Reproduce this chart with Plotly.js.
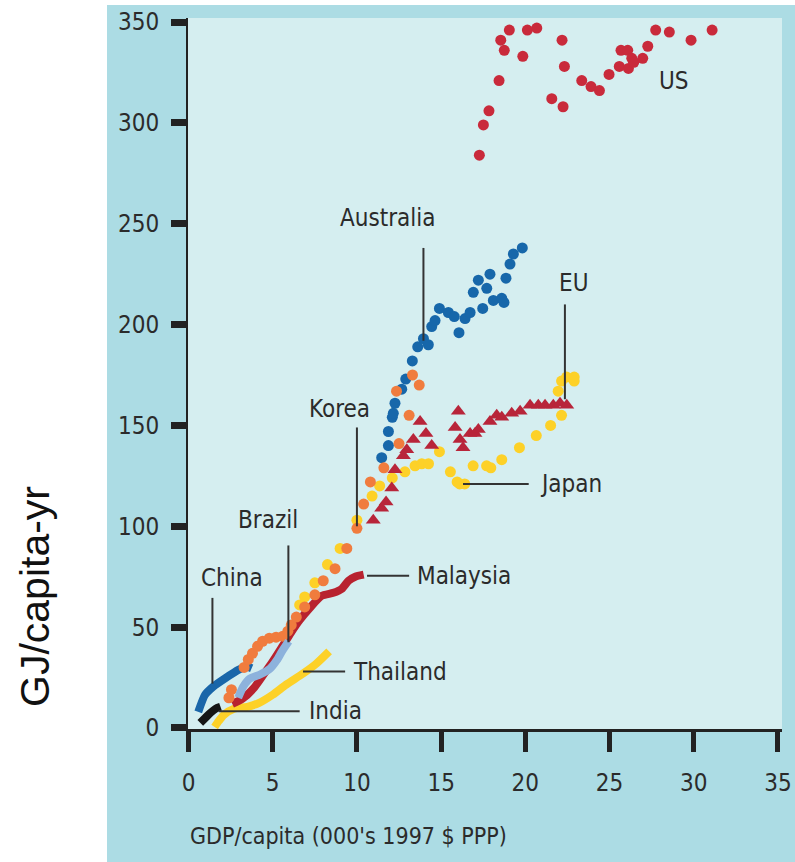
<!DOCTYPE html>
<html>
<head>
<meta charset="utf-8">
<script src="https://cdn.plot.ly/plotly-3.0.1.min.js"></script>
<style>html,body{margin:0;padding:0;background:#fff;}#chart{width:795px;height:862px;}</style>
</head>
<body>
<div id="chart"></div>
<script>
// ---- data (GDP/capita in 000's 1997 $ PPP, energy in GJ/capita-yr) ----
const usX = [17.27,17.51,17.84,18.44,18.54,18.75,19.05,19.85,20.12,20.68,21.57,22.18,22.32,22.24,23.35,23.9,24.4,24.97,25.58,25.68,26.08,26.12,26.32,26.44,26.97,27.27,27.74,28.55,29.84,31.09];
const usY = [284,299,306,321,341,336,346,333,346,347,312,341,328,308,321,318,316,324,328,336,336,327,332,330,332,338,346,345,341,346];

const ausX = [11.47,11.87,11.87,12.1,12.16,12.26,12.66,12.9,13.29,13.61,13.95,14.24,14.44,14.64,14.9,15.43,15.78,16.06,16.42,16.72,16.91,17.21,17.47,17.71,17.9,18.1,18.6,18.73,18.85,19.09,19.29,19.82];
const ausY = [134,140,147,154,156,161,168,173,182,189,193,190,199,202,208,206,204,196,203,206,216,222,208,218,225,212,213,211,223,230,235,238];

const korX = [2.4,2.55,3.3,3.55,3.8,4.1,4.4,4.8,5.2,5.6,5.9,6.1,6.4,6.9,7.5,8.0,8.7,9.4,10.0,10.4,10.8,11.6,12.5,13.1,12.35,13.3,13.7];
const korY = [15,19,30,34,37,40.5,43,44.5,45,45.5,48,51,55,60,66,73,79,89,99,111,122,129,141,155,167,175,170];

const japX = [6.6,6.9,7.5,8.25,9.0,10.0,10.9,11.35,12.1,12.85,13.45,13.85,14.25,14.9,15.55,15.95,16.1,16.4,16.9,17.7,17.95,18.6,19.65,20.65,21.5,22.15,21.95,22.15,22.45,22.9,22.9];
const japY = [61,65,72,81,89,103,115,120,124,127,130,131,131,137,127,122,121,121,130,130,129,133,139,145,150,155,167,172,174,174,172];

const euX = [10.97,11.47,11.73,12.07,12.26,12.76,12.96,13.35,13.75,14.1,14.44,15.83,16.02,16.12,16.3,16.72,17.01,17.21,17.9,18.3,18.6,19.19,19.69,20.28,20.77,21.17,21.66,22.06,22.46];
const euY = [103,109,112,119,128,135,138,143,152,146,140,149,157,143,139,146,146,148,152,155,154,156,157,160,160,160,160,161,160];

const malX = [2.6,3.2,3.9,4.5,5.0,5.5,6.1,6.6,7.2,7.9,8.6,9.1,9.5,9.9,10.4];
const malY = [12,14.5,20,27,33,39.5,47.5,53.5,59.5,65.5,67,69,73,75,76];

const braX = [2.95,3.25,3.65,4.25,4.85,5.25,5.55,5.95];
const braY = [15,20.5,24.5,26.5,29.5,33.7,38,43];

const chnX = [0.58,0.98,1.47,2.17,2.96,3.46,3.75];
const chnY = [8,16.4,20.5,24.6,28.8,30.4,29.6];

const indX = [0.7,1.0,1.3,1.6,1.9];
const indY = [2.5,5,7.5,9.5,10.5];

const thaX = [1.55,1.8,2.1,2.7,3.5,4.2,5.0,5.8,6.8,7.6,8.35];
const thaY = [0.5,3.5,6.5,9.5,10.5,12.5,16.5,21.5,27,32,38];

const xTicks = [0,5,10,15,20,25,30,35];
const yTicks = [0,50,100,150,200,250,300,350];
const xTitle = "GDP/capita (000's 1997 $ PPP)";
const yTitle = "GJ/capita-yr";

// ---- styling ----
const NARROW = "Liberation Sans Narrow, Arial Narrow, DejaVu Sans Condensed, sans-serif";
const INK = "#2b2b2b";

function lineTrace(x, y, color, w) {
  return {x, y, type: 'scatter', mode: 'lines', line: {color, width: w, shape: 'spline', smoothing: 0.6}, hoverinfo: 'skip', showlegend: false};
}
function dotTrace(x, y, color, sym, size) {
  return {x, y, type: 'scatter', mode: 'markers', marker: {color, symbol: sym, size}, hoverinfo: 'skip', showlegend: false};
}

const traces = [
  lineTrace(thaX, thaY, '#fdd128', 8),
  lineTrace(indX, indY, '#151515', 8),
  lineTrace(chnX, chnY, '#1a66a9', 8),
  lineTrace(malX, malY, '#b8222f', 8),
  dotTrace(japX, japY, '#fdd128', 'circle', 11),
  dotTrace(euX, euY, '#b8253a', 'triangle-up', 13),
  dotTrace(ausX, ausY, '#1767aa', 'circle', 11),
  dotTrace(korX, korY, '#f07c3e', 'circle', 11),
  lineTrace(braX, braY, '#8db2dc', 8),
  dotTrace(usX, usY, '#c92a3b', 'circle', 11)
];

// country labels: [text, x, y, xanchor] and leader lines [x0,y0,x1,y1]
const labels = [
  ['US', 28.8, 321, 'center'],
  ['Australia', 11.86, 253, 'center'],
  ['EU', 22.83, 220.5, 'center'],
  ['Korea', 8.94, 158, 'center'],
  ['Japan', 20.75, 121, 'left'],
  ['Malaysia', 13.45, 75.5, 'left'],
  ['Brazil', 4.72, 103, 'center'],
  ['China', 2.58, 74.5, 'center'],
  ['Thailand', 9.65, 28, 'left'],
  ['India', 7.05, 8.3, 'left']
];
const leaders = [
  [13.95, 238, 13.95, 192],
  [22.35, 210, 22.35, 163],
  [10.0, 149, 10.0, 100],
  [16.3, 121, 20.2, 121],
  [10.6, 75.5, 13.1, 75.5],
  [5.93, 90.5, 5.93, 42.5],
  [1.42, 64.5, 1.42, 22],
  [6.8, 28, 9.3, 28],
  [1.8, 8.3, 6.6, 8.3]
];

const annotations = labels.map(l => ({
  text: l[0], x: l[1], y: l[2], xref: 'x', yref: 'y', xanchor: l[3], yanchor: 'middle',
  showarrow: false, font: {family: NARROW, size: 24, color: INK}
}));
annotations.push({
  text: xTitle, xref: 'paper', yref: 'paper', x: 0, y: (729 - 836) / 711, xanchor: 'left', yanchor: 'middle',
  showarrow: false, font: {family: NARROW, size: 23, color: INK}
});
annotations.push({
  text: yTitle, xref: 'paper', yref: 'paper', x: (35 - 188) / 594, y: (729 - 597) / 711, xanchor: 'center', yanchor: 'middle',
  textangle: -90, showarrow: false, font: {family: 'Liberation Sans, Arial, sans-serif', size: 41, color: '#111'}
});

const shapes = [
  {type: 'rect', xref: 'paper', yref: 'paper', x0: (107 - 188) / 594, x1: (800 - 188) / 594, y0: (729 - 870) / 711, y1: (729 - 5) / 711,
   fillcolor: '#acdce4', line: {width: 0}, layer: 'below'},
  {type: 'rect', xref: 'paper', yref: 'paper', x0: 0, x1: 1, y0: 0, y1: 1,
   fillcolor: '#d5eef0', line: {width: 0}, layer: 'below'}
].concat(leaders.map(s => ({type: 'line', xref: 'x', yref: 'y', x0: s[0], y0: s[1], x1: s[2], y1: s[3], line: {color: '#333', width: 2}})));

const layout = {
  width: 795, height: 862,
  margin: {l: 188, r: 13, t: 18, b: 133, pad: 0},
  paper_bgcolor: '#ffffff',
  plot_bgcolor: 'rgba(0,0,0,0)',
  showlegend: false,
  xaxis: {
    range: [-0.03, 35.24], tickvals: xTicks, ticktext: xTicks.map(String),
    showgrid: false, zeroline: false, showline: true, linecolor: '#222', linewidth: 3,
    ticks: 'outside', ticklen: 20, tickwidth: 5, tickcolor: '#222', ticklabelstandoff: 10,
    tickfont: {family: NARROW, size: 24, color: INK}, fixedrange: true
  },
  yaxis: {
    range: [-0.5, 352], tickvals: yTicks, ticktext: yTicks.map(String),
    showgrid: false, zeroline: false, showline: true, linecolor: '#222', linewidth: 2,
    ticks: 'outside', ticklen: 15, tickwidth: 7, tickcolor: '#222', ticklabelstandoff: 7,
    tickfont: {family: NARROW, size: 24, color: INK}, fixedrange: true
  },
  annotations, shapes
};

Plotly.newPlot('chart', traces, layout, {displayModeBar: false, staticPlot: true});
</script>
</body>
</html>
